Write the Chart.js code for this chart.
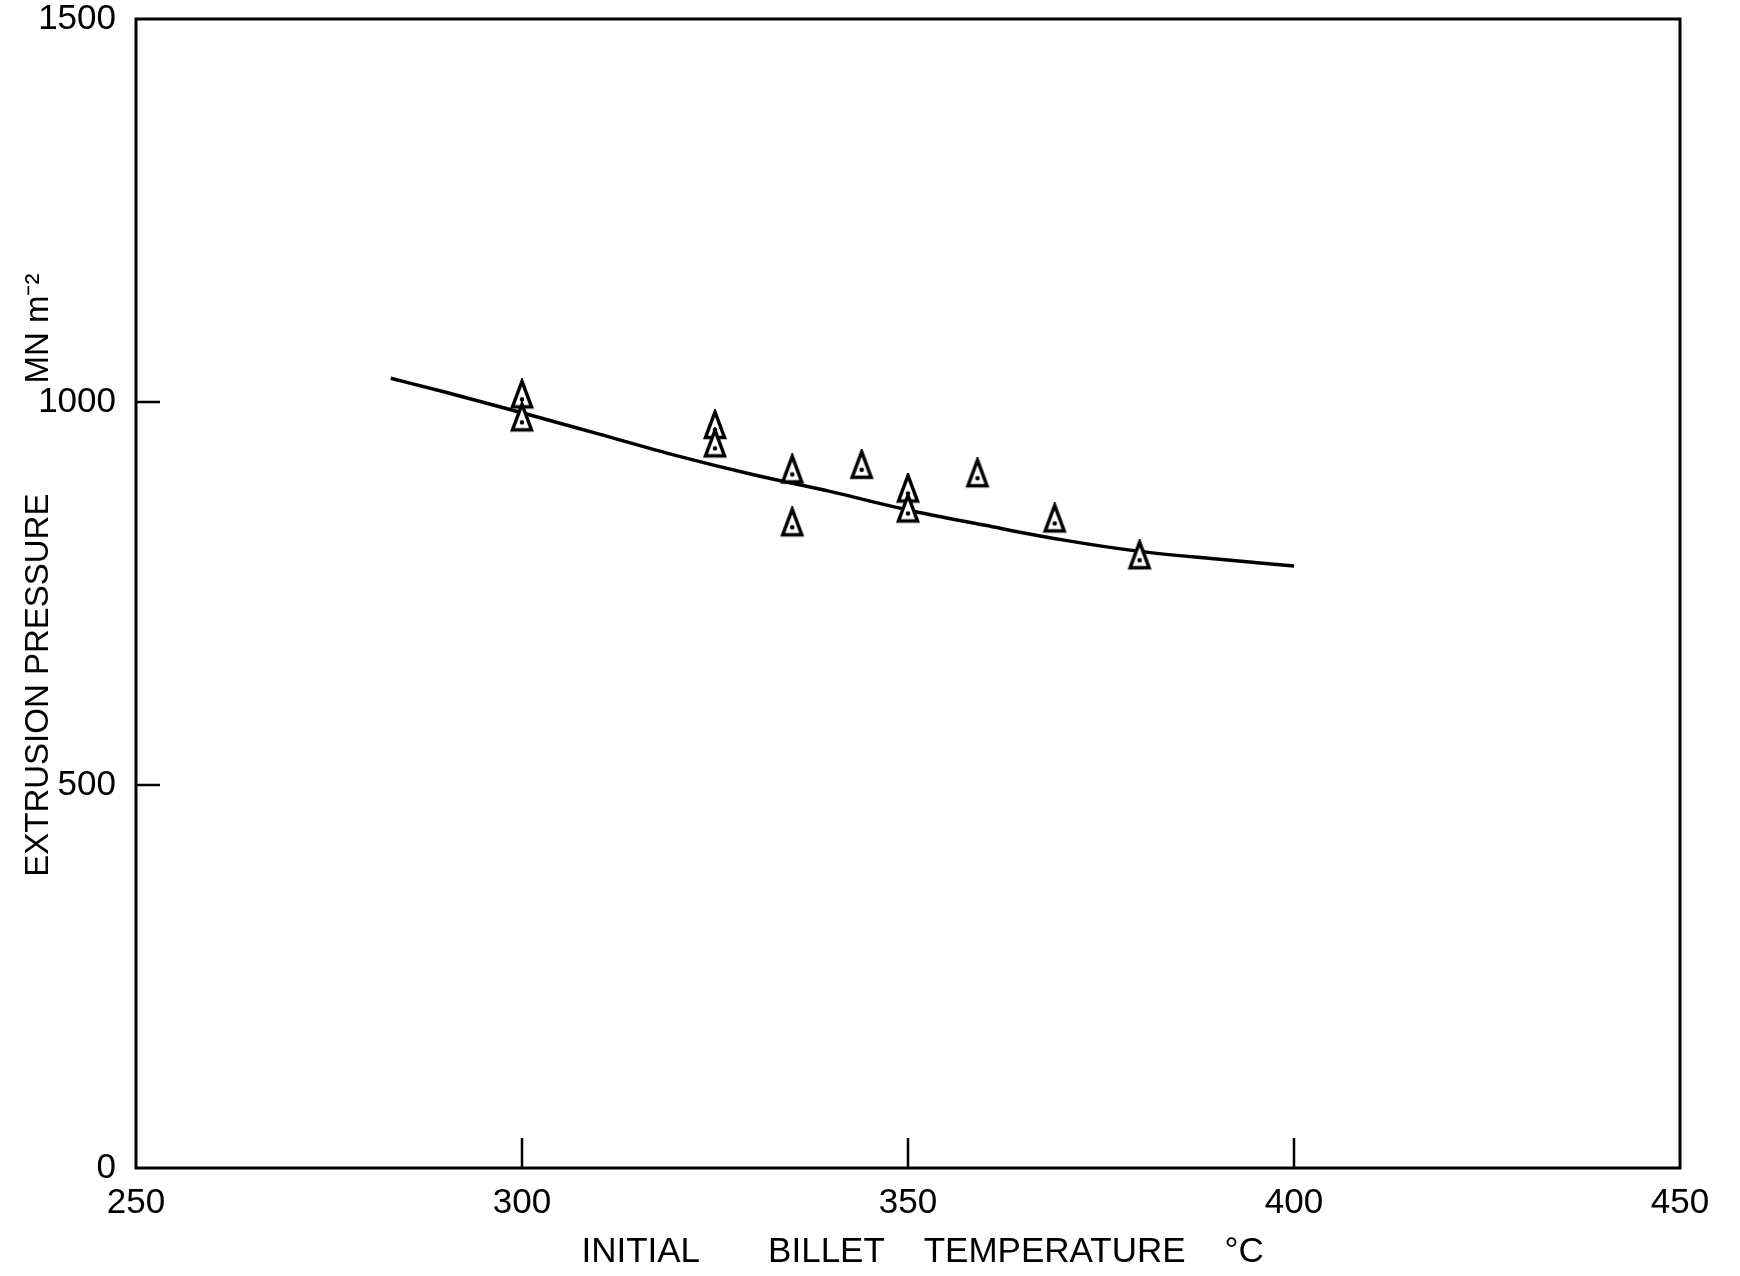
<!DOCTYPE html>
<html>
<head>
<meta charset="utf-8">
<script src="https://cdn.jsdelivr.net/npm/chart.js@4.4.1/dist/chart.umd.min.js"></script>
<style>
  html, body { margin: 0; padding: 0; background: #fff; }
  canvas { display: block; }
</style>
</head>
<body>
<canvas id="myChart" width="1740" height="1276"></canvas>
<script>
// fitted curve
const curveTemp = [283, 290, 300, 310, 320, 330, 340, 350, 360, 370, 380, 390, 400];
const curvePressure = [1031, 1013, 986, 958, 930, 905, 883, 859, 839, 820, 805, 795, 786];

// measured points
const testTemp = [300, 300, 325, 325, 335, 335, 344, 350, 350, 359, 369, 380];
const testPressure = [1010, 980, 970, 946, 912, 843, 918, 887, 861, 907, 848, 800];

// axis ticks
const xTicks = [250, 300, 350, 400, 450];
const yTicks = [0, 500, 1000, 1500];
const xInnerMarks = [300, 350, 400];
const yInnerMarks = [500, 1000];

const FONT = "'Liberation Sans', Arial, sans-serif";

// open triangle with a dot, used as point marker
const marker = document.createElement('canvas');
marker.width = 26;
marker.height = 32;
(function () {
    const c = marker.getContext('2d');
    c.fillStyle = '#fff';
    c.strokeStyle = '#000';
    c.lineWidth = 3.5;
    c.lineJoin = 'miter';
    c.beginPath();
    c.moveTo(13, 3);
    c.lineTo(3.5, 28.5);
    c.lineTo(22.5, 28.5);
    c.closePath();
    c.fill();
    c.stroke();
    c.fillStyle = '#000';
    c.beginPath();
    c.arc(13, 21, 2.3, 0, Math.PI * 2);
    c.fill();
})();

const frame = {
    id: 'frame',
    afterDraw(chart) {
        const { ctx, chartArea: a, scales } = chart;
        ctx.save();
        ctx.strokeStyle = '#000';
        ctx.lineWidth = 3;
        ctx.strokeRect(a.left, a.top, a.right - a.left, a.bottom - a.top);
        ctx.lineWidth = 2.5;
        ctx.beginPath();
        xInnerMarks.forEach(v => {
            const x = scales.x.getPixelForValue(v);
            ctx.moveTo(x, a.bottom);
            ctx.lineTo(x, a.bottom - 30);
        });
        yInnerMarks.forEach(v => {
            const y = scales.y.getPixelForValue(v);
            ctx.moveTo(a.left, y);
            ctx.lineTo(a.left + 24, y);
        });
        ctx.stroke();
        ctx.restore();
    }
};

new Chart(document.getElementById('myChart'), {
    type: 'scatter',
    data: {
        datasets: [{
            label: 'measured',
            data: testTemp.map((t, i) => ({ x: t, y: testPressure[i] })),
            pointStyle: marker,
            pointRadius: 13,
            showLine: false
        }, {
            label: 'curve',
            data: curveTemp.map((t, i) => ({ x: t, y: curvePressure[i] })),
            showLine: true,
            borderColor: '#000',
            borderWidth: 3.5,
            pointRadius: 0,
            cubicInterpolationMode: 'monotone'
        }]
    },
    options: {
        responsive: false,
        animation: false,
        layout: { padding: { top: 19, right: 60, left: 0, bottom: 0 } },
        plugins: { legend: { display: false }, tooltip: { enabled: false } },
        scales: {
            x: {
                type: 'linear',
                min: 250,
                max: 450,
                afterBuildTicks: s => { s.ticks = xTicks.map(v => ({ value: v })); },
                afterFit: s => { s.height = 108; s.paddingLeft = 0; s.paddingRight = 0; },
                grid: { display: false, drawTicks: false },
                border: { display: false },
                ticks: { color: '#000', padding: 14, font: { family: FONT, size: 35 }, callback: v => String(v) },
                title: {
                    display: true,
                    text: '   INITIAL       BILLET    TEMPERATURE    °C',
                    color: '#000',
                    padding: { top: 0, bottom: 3 },
                    font: { family: FONT, size: 35 }
                }
            },
            y: {
                type: 'linear',
                min: 0,
                max: 1500,
                afterBuildTicks: s => { s.ticks = yTicks.map(v => ({ value: v })); },
                afterFit: s => { s.width = 136; s.paddingTop = 0; s.paddingBottom = 0; },
                grid: { display: false, drawTicks: false },
                border: { display: false },
                ticks: { color: '#000', padding: 20, font: { family: FONT, size: 35 }, callback: v => String(v) },
                title: {
                    display: true,
                    text: '    EXTRUSION PRESSURE            MN m\u207B\u00B2',
                    color: '#000',
                    padding: { top: 19, bottom: 0 },
                    font: { family: FONT, size: 33 }
                }
            }
        }
    },
    plugins: [frame]
});
</script>
</body>
</html>
